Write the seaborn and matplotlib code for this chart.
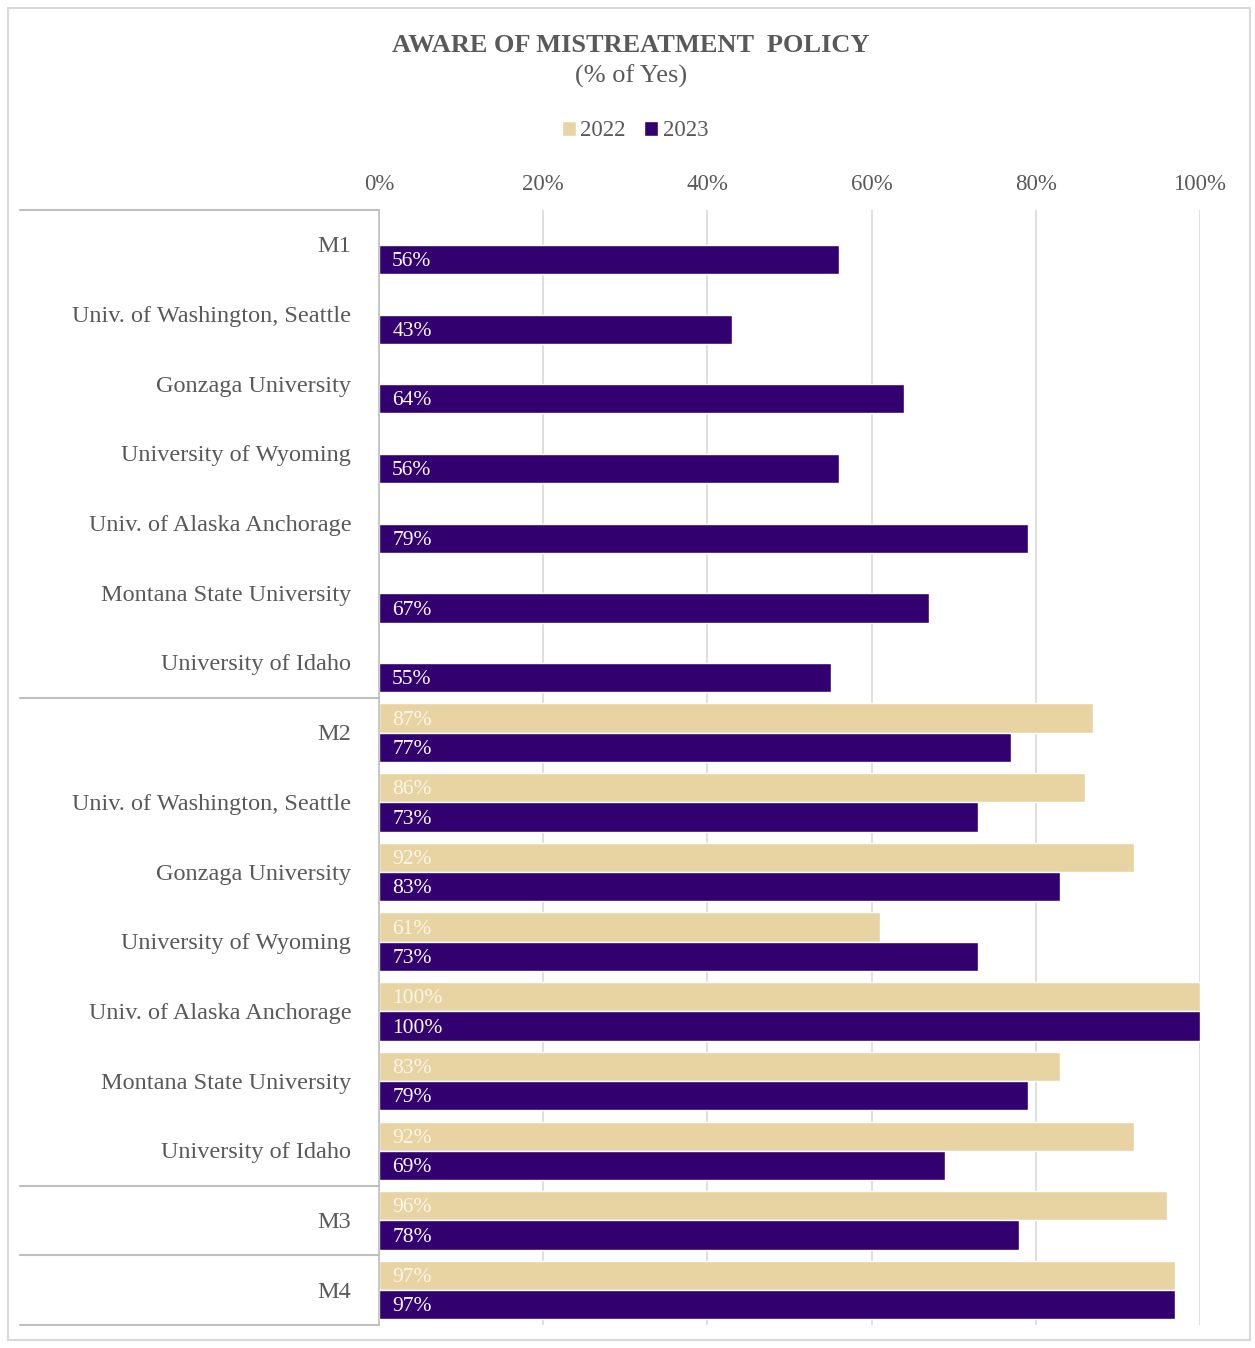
import numpy as np
import pandas as pd
import seaborn as sns
import matplotlib.pyplot as plt
import matplotlib.transforms as mtrans
from matplotlib.lines import Line2D
from matplotlib.patches import Rectangle, Patch

# ---------------- data ----------------
schools = ["Univ. of Washington, Seattle", "Gonzaga University", "University of Wyoming",
           "Univ. of Alaska Anchorage", "Montana State University", "University of Idaho"]
row_labels = ["M1"] + schools + ["M2"] + schools + ["M3", "M4"]
years = ["2022", "2023"]
values_2022 = [np.nan] * 7 + [87, 86, 92, 61, 100, 83, 92, 96, 97]
values_2023 = [56, 43, 64, 56, 79, 67, 55, 77, 73, 83, 73, 100, 79, 69, 78, 97]
group_breaks = [0, 7, 14, 15, 16]
x_ticks = [0, 20, 40, 60, 80, 100]
tick_labels = ["0%", "20%", "40%", "60%", "80%", "100%"]
title = "AWARE OF MISTREATMENT  POLICY"
subtitle = "(% of Yes)"

# ---------------- styling ----------------
gold = "#E8D3A2"
purple = "#33006F"
gray_text = "#595959"
grid_col = "#D9D9D9"

sns.set_theme(style="white")
plt.rcParams["font.family"] = ["Liberation Serif", "DejaVu Serif"]

keys = [f"r{i:02d}" for i in range(len(row_labels))]
df = pd.DataFrame({
    "row": keys * 2,
    "year": ["2022"] * len(keys) + ["2023"] * len(keys),
    "value": list(values_2022) + list(values_2023),
})

W, H = 1255, 1348
fig = plt.figure(figsize=(W / 100, H / 100), dpi=100)
ax = fig.add_axes([379 / W, 1 - 1325 / H, (1200 - 379) / W, (1325 - 210) / H])

sns.barplot(data=df, y="row", x="value", hue="year", order=keys, hue_order=years,
            palette=[gold, purple], orient="h", width=0.84, ax=ax, legend=False,
            edgecolor="white", linewidth=1.0, errorbar=None, saturation=1)

ax.set_xlim(0, 100)
ax.set_ylim(len(keys) - 0.5, -0.5)
ax.set_xticks(x_ticks)
ax.set_xticklabels(tick_labels)
ax.xaxis.tick_top()
ax.tick_params(axis="x", length=0, pad=11, labelsize=16.5, labelcolor=gray_text)
ax.set_yticks(range(len(keys)))
ax.set_yticklabels(row_labels)
ax.tick_params(axis="y", length=0, pad=20, labelsize=17.5, labelcolor=gray_text)
for lbl in ax.get_yticklabels():
    lbl.set_verticalalignment("bottom")
ax.set_xlabel("")
ax.set_ylabel("")
ax.xaxis.grid(True, color=grid_col, linewidth=1.2)
ax.set_axisbelow(True)
for s in ["top", "right", "bottom"]:
    ax.spines[s].set_visible(False)
ax.spines["left"].set_color("#BFBFBF")
ax.spines["left"].set_linewidth(1.2)

# shift y tick labels a bit so they sit near the bar pair centre
offset = mtrans.ScaledTranslation(0, -9 / 72, fig.dpi_scale_trans)
for lbl in ax.get_yticklabels():
    lbl.set_transform(lbl.get_transform() + offset)

# value labels inside bars
label_colors = {"2022": "#FBF6EC", "2023": "white"}
for container, yr in zip(ax.containers, years):
    for bar in container:
        w = bar.get_width()
        if w is None or np.isnan(w) or w <= 0:
            continue
        ax.text(1.6, bar.get_y() + bar.get_height() / 2 + 0.03, f"{round(w)}%",
                ha="left", va="center", fontsize=15.5, color=label_colors[yr])

# group separators in the label area
blend = mtrans.blended_transform_factory(fig.transFigure, ax.transData)
for b in group_breaks:
    fig.add_artist(Line2D([20 / W, 379 / W], [b - 0.5, b - 0.5], transform=blend,
                          color="#BFBFBF", linewidth=1.5))

# titles
fig.text(631 / W, 1 - 45 / H, title, ha="center", va="center", fontsize=19,
         fontweight="bold", color=gray_text)
fig.text(631 / W, 1 - 76 / H, subtitle, ha="center", va="center", fontsize=19,
         color=gray_text)

# legend
handles = [Patch(facecolor=gold, label="2022"), Patch(facecolor=purple, label="2023")]
fig.legend(handles=handles, loc="center", bbox_to_anchor=(635 / W, 1 - 131 / H), ncol=2,
           frameon=False, fontsize=16.5, handlelength=0.6, handleheight=0.6,
           handletextpad=0.2, columnspacing=0.8, labelcolor=gray_text)

# outer frame
fig.add_artist(Rectangle((8 / W, 1 - 1340 / H), (1250 - 8) / W, (1340 - 8) / H,
                         transform=fig.transFigure, fill=False, edgecolor="#D9D9D9",
                         linewidth=1.5))

fig.savefig("out.png", dpi=100)
